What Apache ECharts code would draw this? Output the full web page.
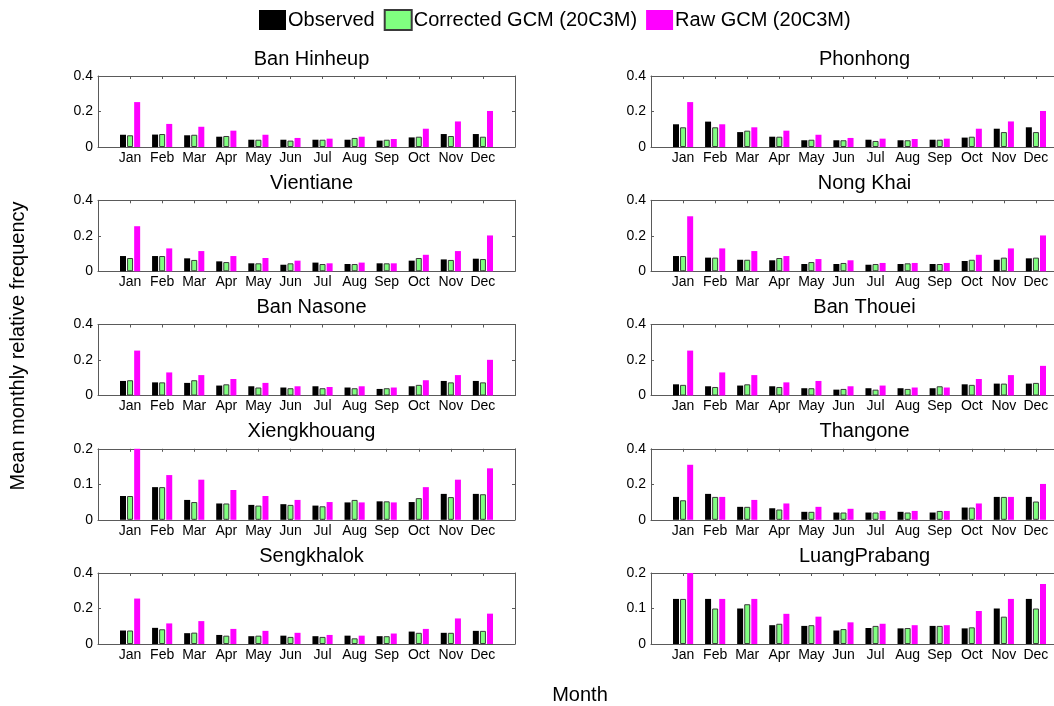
<!DOCTYPE html>
<html>
<head>
<meta charset="utf-8">
<script src="https://cdn.jsdelivr.net/npm/echarts@6/dist/echarts.min.js"></script>
<style>
html,body{margin:0;padding:0;background:#fff;}
#chart{width:1054px;height:706px;}
</style>
</head>
<body>
<div id="chart"></div>
<script>
const months = ['Jan','Feb','Mar','Apr','May','Jun','Jul','Aug','Sep','Oct','Nov','Dec'];
const seriesNames = ['Observed','Corrected GCM (20C3M)','Raw GCM (20C3M)'];

// Left column
const obsBanHinheup  = [0.069,0.070,0.066,0.058,0.041,0.041,0.041,0.041,0.036,0.054,0.073,0.073];
const corBanHinheup  = [0.066,0.073,0.069,0.062,0.041,0.036,0.041,0.051,0.041,0.058,0.062,0.058];
const rawBanHinheup  = [0.253,0.130,0.114,0.092,0.069,0.051,0.047,0.058,0.045,0.103,0.144,0.203];

const obsVientiane   = [0.086,0.086,0.073,0.056,0.045,0.037,0.049,0.041,0.045,0.060,0.067,0.071];
const corVientiane   = [0.075,0.086,0.064,0.052,0.045,0.045,0.041,0.041,0.045,0.075,0.064,0.069];
const rawVientiane   = [0.254,0.129,0.114,0.086,0.075,0.060,0.045,0.049,0.045,0.093,0.114,0.202];

const obsBanNasone   = [0.082,0.074,0.071,0.056,0.052,0.045,0.052,0.045,0.037,0.052,0.082,0.082];
const corBanNasone   = [0.086,0.074,0.086,0.063,0.045,0.041,0.041,0.041,0.041,0.060,0.074,0.074];
const rawBanNasone   = [0.253,0.130,0.115,0.093,0.071,0.052,0.048,0.052,0.045,0.086,0.115,0.201];

const obsXiengkhouang = [0.067,0.092,0.056,0.046,0.042,0.044,0.040,0.049,0.052,0.050,0.073,0.073];
const corXiengkhouang = [0.067,0.092,0.050,0.046,0.040,0.042,0.038,0.056,0.052,0.061,0.064,0.072];
const rawXiengkhouang = [0.200,0.126,0.113,0.084,0.067,0.056,0.050,0.049,0.049,0.092,0.113,0.145];

const obsSengkhalok  = [0.076,0.091,0.061,0.051,0.044,0.047,0.044,0.047,0.044,0.070,0.063,0.074];
const corSengkhalok  = [0.076,0.083,0.064,0.047,0.047,0.040,0.040,0.032,0.044,0.063,0.063,0.074];
const rawSengkhalok  = [0.256,0.116,0.129,0.085,0.074,0.063,0.051,0.047,0.059,0.085,0.144,0.171];

// Right column
const obsPhonhong    = [0.128,0.143,0.084,0.058,0.038,0.038,0.041,0.038,0.041,0.053,0.103,0.111];
const corPhonhong    = [0.111,0.111,0.092,0.058,0.041,0.038,0.034,0.038,0.041,0.058,0.084,0.084];
const rawPhonhong    = [0.253,0.128,0.111,0.092,0.069,0.051,0.047,0.045,0.047,0.103,0.144,0.203];

const obsNongKhai    = [0.086,0.077,0.065,0.062,0.041,0.041,0.037,0.041,0.041,0.058,0.065,0.073];
const corNongKhai    = [0.086,0.077,0.065,0.075,0.052,0.047,0.041,0.045,0.041,0.065,0.077,0.077];
const rawNongKhai    = [0.310,0.129,0.114,0.086,0.069,0.062,0.047,0.047,0.047,0.093,0.129,0.202];

const obsBanThouei   = [0.063,0.052,0.056,0.052,0.041,0.033,0.041,0.041,0.041,0.063,0.067,0.067];
const corBanThouei   = [0.060,0.048,0.063,0.048,0.041,0.037,0.033,0.037,0.052,0.060,0.067,0.071];
const rawBanThouei   = [0.253,0.130,0.115,0.074,0.082,0.052,0.056,0.045,0.045,0.093,0.115,0.167];

const obsThangone    = [0.129,0.146,0.073,0.065,0.045,0.041,0.041,0.045,0.041,0.069,0.129,0.129];
const corThangone    = [0.110,0.129,0.073,0.058,0.045,0.041,0.041,0.041,0.050,0.069,0.129,0.103];
const rawThangone    = [0.310,0.129,0.112,0.092,0.073,0.062,0.050,0.050,0.050,0.092,0.129,0.202];

const obsLuangPrabang = [0.127,0.127,0.100,0.053,0.051,0.038,0.045,0.044,0.051,0.044,0.100,0.127];
const corLuangPrabang = [0.127,0.100,0.112,0.057,0.053,0.042,0.051,0.045,0.051,0.047,0.077,0.100];
const rawLuangPrabang = [0.200,0.127,0.127,0.085,0.077,0.061,0.057,0.053,0.053,0.093,0.127,0.169];

const leftNames  = ['Ban Hinheup','Vientiane','Ban Nasone','Xiengkhouang','Sengkhalok'];
const rightNames = ['Phonhong','Nong Khai','Ban Thouei','Thangone','LuangPrabang'];
const leftMax  = [0.4,0.4,0.4,0.2,0.4];
const rightMax = [0.4,0.4,0.4,0.4,0.2];

const leftData = [
  [obsBanHinheup, corBanHinheup, rawBanHinheup],
  [obsVientiane, corVientiane, rawVientiane],
  [obsBanNasone, corBanNasone, rawBanNasone],
  [obsXiengkhouang, corXiengkhouang, rawXiengkhouang],
  [obsSengkhalok, corSengkhalok, rawSengkhalok]
];
const rightData = [
  [obsPhonhong, corPhonhong, rawPhonhong],
  [obsNongKhai, corNongKhai, rawNongKhai],
  [obsBanThouei, corBanThouei, rawBanThouei],
  [obsThangone, corThangone, rawThangone],
  [obsLuangPrabang, corLuangPrabang, rawLuangPrabang]
];

const cats = [''].concat(months, ['']);
const pad = a => [null].concat(a, [null]);

const FONT = 'Liberation Sans, Arial, sans-serif';
const axisCol = '#5a5a5a';
const colors = ['#000000', '#80ff80', '#ff00ff'];
const borders = ['#000000', '#3a3a3a', '#ff00ff'];

const grids = [], xAxes = [], yAxes = [], series = [], titles = [];
const plotW = 417, plotH = 71;
const tops = [76, 200.3, 324.5, 448.8, 573];
const lefts = [98, 651];

function addPanel(col, row, name, data, ymax) {
  const gi = grids.length;
  const left = lefts[col], top = tops[row];
  grids.push({ left: left, top: top, width: plotW, height: plotH, show: false, outerBoundsMode: 'none', containLabel: false });
  titles.push({
    text: name, left: left + plotW / 2, top: top - 32, textAlign: 'center',
    textStyle: { fontFamily: FONT, fontSize: 20, fontWeight: 'normal', color: '#000' }
  });
  const tickInt = (i) => i > 0 && i < 13;
  xAxes.push({
    type: 'category', gridIndex: gi, data: cats, boundaryGap: false, position: 'bottom',
    axisLine: { show: true, onZero: false, lineStyle: { color: axisCol, width: 1 } },
    axisTick: { show: true, inside: true, length: 3, interval: tickInt, lineStyle: { color: axisCol } },
    axisLabel: { show: true, interval: 0, color: '#000', fontFamily: FONT, fontSize: 14, margin: 4 },
    splitLine: { show: false }
  });
  xAxes.push({
    type: 'category', gridIndex: gi, data: cats, boundaryGap: false, position: 'top',
    axisLine: { show: true, onZero: false, lineStyle: { color: axisCol, width: 1 } },
    axisTick: { show: true, inside: true, length: 3, interval: tickInt, lineStyle: { color: axisCol } },
    axisLabel: { show: false }, splitLine: { show: false }
  });
  const yInt = ymax / 2;
  yAxes.push({
    type: 'value', gridIndex: gi, min: 0, max: ymax, interval: yInt, position: 'left',
    axisLine: { show: true, onZero: false, lineStyle: { color: axisCol, width: 1 } },
    axisTick: { show: true, inside: true, length: 3, lineStyle: { color: axisCol } },
    axisLabel: { color: '#000', fontFamily: FONT, fontSize: 14, margin: 5,
      formatter: v => (v === 0 ? '0' : String(+v.toFixed(2))) },
    splitLine: { show: false }
  });
  yAxes.push({
    type: 'value', gridIndex: gi, min: 0, max: ymax, interval: yInt, position: 'right',
    axisLine: { show: true, onZero: false, lineStyle: { color: axisCol, width: 1 } },
    axisTick: { show: true, inside: true, length: 3, lineStyle: { color: axisCol } },
    axisLabel: { show: false }, splitLine: { show: false }
  });
  for (let s = 0; s < 3; s++) {
    series.push({
      name: seriesNames[s], type: 'bar', xAxisIndex: gi * 2, yAxisIndex: gi * 2,
      data: pad(data[s]), barWidth: 6, barGap: '18%', clip: true,
      itemStyle: { color: colors[s], borderColor: borders[s], borderWidth: s === 1 ? 1 : 0 },
      emphasis: { disabled: true }, animation: false
    });
  }
}

for (let r = 0; r < 5; r++) {
  addPanel(0, r, leftNames[r], leftData[r], leftMax[r]);
  addPanel(1, r, rightNames[r], rightData[r], rightMax[r]);
}

const chart = echarts.init(document.getElementById('chart'), null, { renderer: 'canvas' });
chart.setOption({
  backgroundColor: '#ffffff',
  animation: false,
  title: titles,
  legend: {
    data: seriesNames, left: 254, top: 4, itemWidth: 27, itemHeight: 20, itemGap: 9,
    icon: 'rect', selectedMode: false,
    textStyle: { fontFamily: FONT, fontSize: 20, color: '#000', padding: [0, 0, 0, -3] }
  },
  grid: grids, xAxis: xAxes, yAxis: yAxes, series: series,
  graphic: [
    { type: 'text', rotation: Math.PI / 2,
      style: { text: 'Mean monthly relative frequency', fontFamily: FONT, fontSize: 20, fill: '#000', align: 'center', verticalAlign: 'middle' },
      x: 18, y: 346 },
    { type: 'text', style: { text: 'Month', fontFamily: FONT, fontSize: 20, fill: '#000', align: 'center', verticalAlign: 'middle' },
      x: 580, y: 695 }
  ]
});
</script>
</body>
</html>
